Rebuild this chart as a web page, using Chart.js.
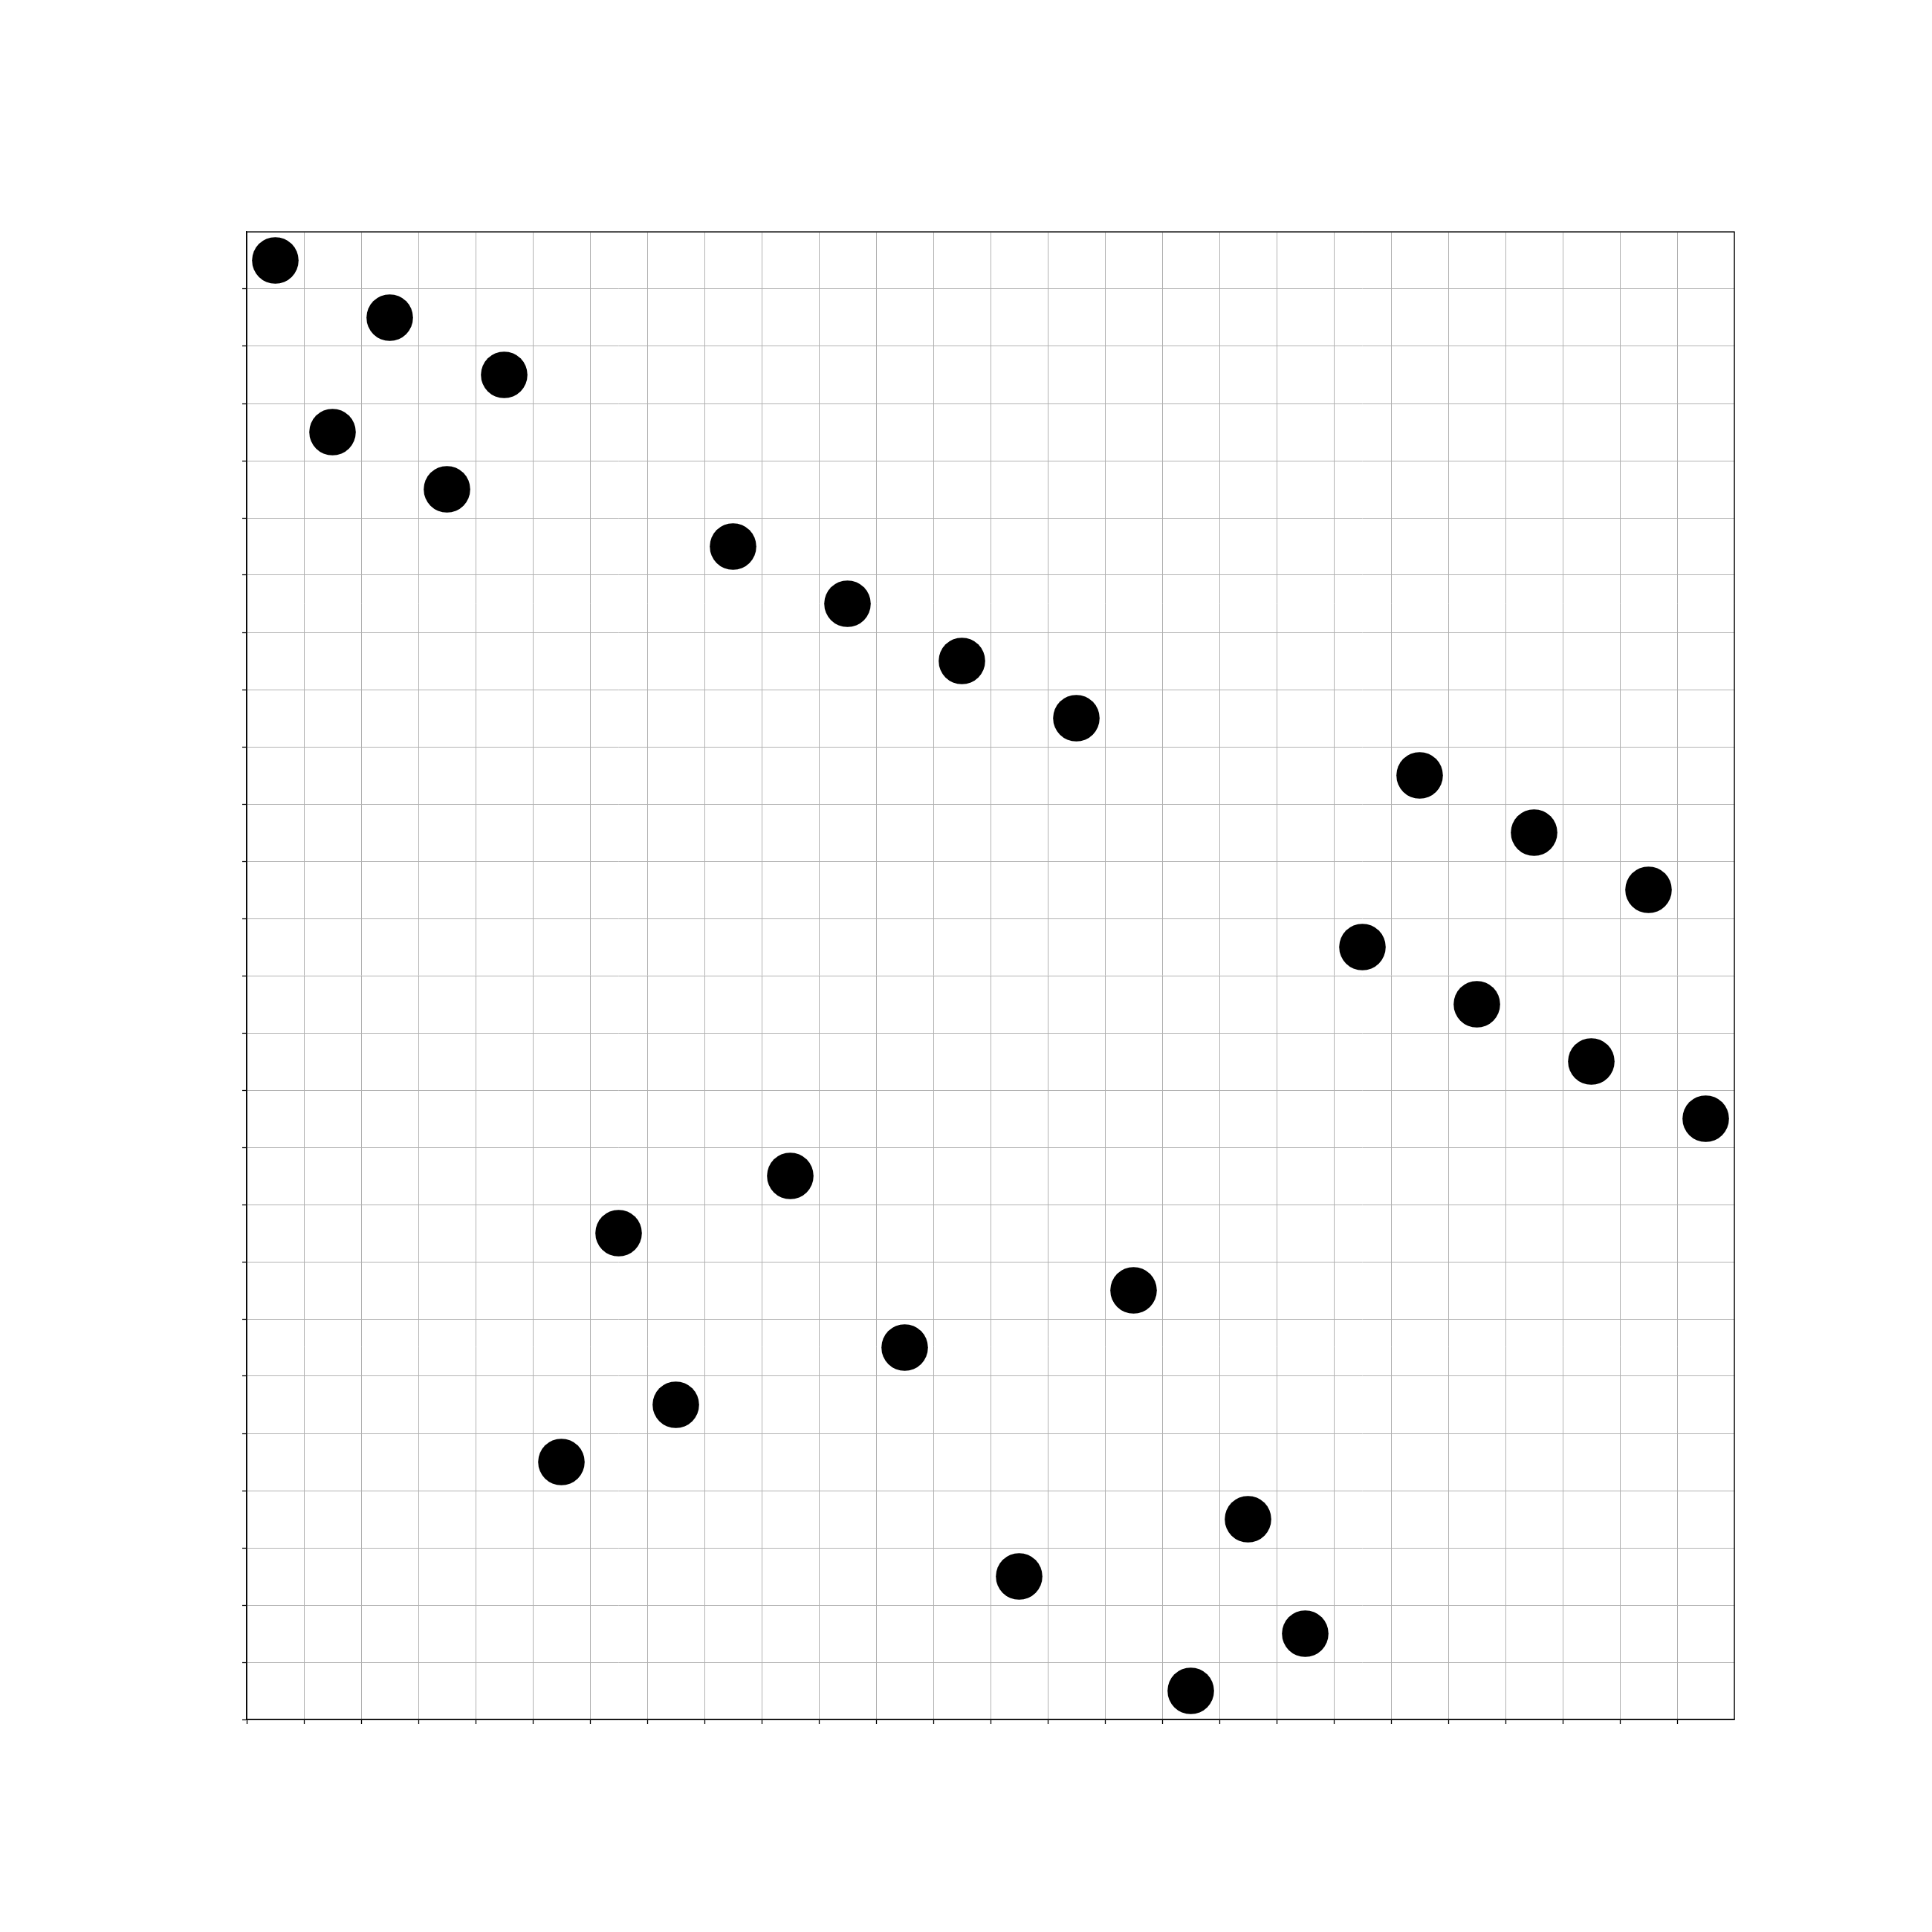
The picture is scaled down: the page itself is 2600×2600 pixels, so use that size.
<!DOCTYPE html>
<html>
<head>
<meta charset="utf-8">
<script src="https://cdn.jsdelivr.net/npm/chart.js@4/dist/chart.umd.min.js"></script>
<style>
  html, body { margin: 0; padding: 0; background: #fff; }
  canvas { display: block; }
</style>
</head>
<body>
<canvas id="chart" width="2600" height="2600"></canvas>
<script>
// 点的位置（格子中心）
const xValues = [0.5, 1.5, 2.5, 3.5, 4.5, 5.5, 6.5, 7.5, 8.5, 9.5, 10.5, 11.5, 12.5,
                 13.5, 14.5, 15.5, 16.5, 17.5, 18.5, 19.5, 20.5, 21.5, 22.5, 23.5, 24.5, 25.5];
const yValues = [25.5, 22.5, 24.5, 21.5, 23.5, 4.5, 8.5, 5.5, 20.5, 9.5, 19.5, 6.5, 18.5,
                 2.5, 17.5, 7.5, 0.5, 3.5, 1.5, 13.5, 16.5, 12.5, 15.5, 11.5, 14.5, 10.5];
const axisMin = 0;
const axisMax = 26;

const TICK_LEN = 6;

// 外框：Chart.js 不画上/右边框，自己补上
const framePlugin = {
    id: 'frame',
    afterDraw(chart) {
        const { ctx, chartArea } = chart;
        ctx.save();
        ctx.strokeStyle = '#000';
        ctx.lineWidth = 1.3;
        ctx.strokeRect(chartArea.left, chartArea.top,
                       chartArea.right - chartArea.left, chartArea.bottom - chartArea.top);
        ctx.restore();
    }
};

const points = xValues.map((x, i) => ({ x: x, y: yValues[i] }));

const gridOpts = {
    color: '#b0b0b0',
    lineWidth: 1,
    // 最后一格 (26) 没有刻度线
    tickColor: ctx => (ctx.tick && ctx.tick.value === axisMax) ? 'rgba(0,0,0,0)' : '#000',
    tickWidth: 1.3,
    tickLength: TICK_LEN,
    drawTicks: true
};

new Chart(document.getElementById('chart'), {
    type: 'scatter',
    data: {
        datasets: [{
            data: points,
            backgroundColor: '#000',
            borderWidth: 0,
            pointRadius: 31.3,
            pointHoverRadius: 31.3
        }]
    },
    options: {
        responsive: false,
        animation: false,
        devicePixelRatio: 1,
        layout: {
            padding: { left: 332 - TICK_LEN, top: 312, right: 2600 - 2334, bottom: 2600 - 2314 - TICK_LEN }
        },
        plugins: {
            legend: { display: false },
            tooltip: { enabled: false }
        },
        scales: {
            x: {
                type: 'linear',
                min: axisMin,
                max: axisMax,
                grid: gridOpts,
                border: { display: true, color: '#000', width: 1.3 },
                ticks: { display: false, stepSize: 1 },
                afterFit: s => { s.height = TICK_LEN; }
            },
            y: {
                type: 'linear',
                min: axisMin,
                max: axisMax,
                grid: gridOpts,
                border: { display: true, color: '#000', width: 1.3 },
                ticks: { display: false, stepSize: 1 },
                afterFit: s => { s.width = TICK_LEN; }
            }
        }
    },
    plugins: [framePlugin]
});
</script>
</body>
</html>
